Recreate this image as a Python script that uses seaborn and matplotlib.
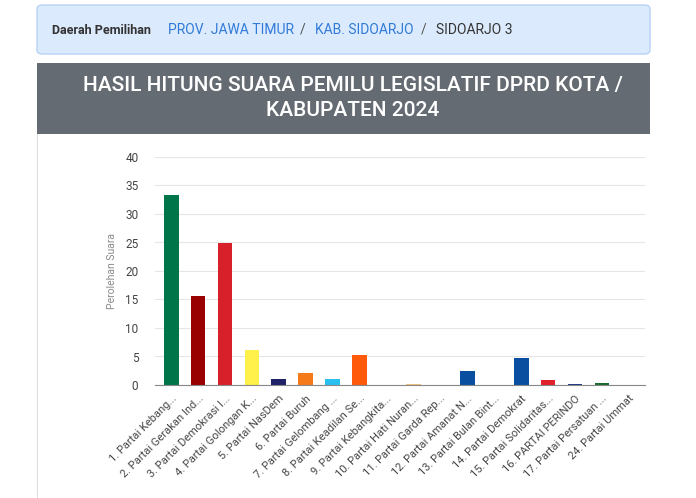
import matplotlib
matplotlib.use("Agg")
import matplotlib.pyplot as plt
import seaborn as sns
from matplotlib.patches import Rectangle, FancyBboxPatch

plt.rcParams["font.family"] = "Roboto"

parties = [
    "1. Partai Kebang...", "2. Partai Gerakan Ind...", "3. Partai Demokrasi I...",
    "4. Partai Golongan K...", "5. Partai NasDem", "6. Partai Buruh",
    "7. Partai Gelombang ...", "8. Partai Keadilan Se...", "9. Partai Kebangkita...",
    "10. Partai Hati Nuran...", "11. Partai Garda Rep...", "12. Partai Amanat N...",
    "13. Partai Bulan Bint...", "14. Partai Demokrat", "15. Partai Solidaritas...",
    "16. PARTAI PERINDO", "17. Partai Persatuan ...", "24. Partai Ummat",
]
votes = [33.4, 15.6, 24.9, 6.1, 1.1, 2.1, 1.0, 5.2, 0.05, 0.2, 0.05, 2.5, 0.05, 4.7, 0.8, 0.2, 0.3, 0.05]
colors = ["#00754a", "#990000", "#d7202a", "#fff04a", "#1f2266", "#f57a1a",
          "#29c0f0", "#ff5a0a", "#7a5a2a", "#f0c080", "#8a2a2a", "#0a4ea0",
          "#2a7a4a", "#0a4ea0", "#e0202a", "#1f3a8a", "#1a6a2a", "#2a6a5a"]
yticks = [0, 5, 10, 15, 20, 25, 30, 35, 40]

W, H = 696, 498
fig = plt.figure(figsize=(W / 100, H / 100), dpi=100)
fig.patch.set_facecolor("white")

def px(x, y, w, h):
    return (x / W, 1 - (y + h) / H, w / W, h / H)

# breadcrumb box
x0, y0, w0, h0 = px(37, 5, 613, 49)
fig.patches.append(FancyBboxPatch((x0, y0), w0, h0, boxstyle="round,pad=0,rounding_size=0.008",
                                  transform=fig.transFigure, fc="#dceafd", ec="#b8d2f5", lw=1))
ty = 1 - 30 / H
fig.text(52 / W, ty, "Daerah Pemilihan", fontsize=9, fontweight="bold", color="#333333", va="center")
fig.text(168 / W, ty, "PROV. JAWA TIMUR", fontsize=10, color="#2f7ad8", va="center")
fig.text(300 / W, ty, "/", fontsize=10, color="#555555", va="center")
fig.text(315 / W, ty, "KAB. SIDOARJO", fontsize=10, color="#2f7ad8", va="center")
fig.text(421 / W, ty, "/", fontsize=10, color="#555555", va="center")
fig.text(436 / W, ty, "SIDOARJO 3", fontsize=10, color="#333333", va="center")

# title banner
fig.patches.append(Rectangle(px(37, 63, 613, 71)[:2], 613 / W, 71 / H,
                             transform=fig.transFigure, fc="#646b73", ec="none"))
fig.text(353 / W, 1 - 98 / H, "HASIL HITUNG SUARA PEMILU LEGISLATIF DPRD KOTA /\nKABUPATEN 2024",
         fontsize=15, fontweight="medium", color="white", ha="center", va="center", linespacing=1.35)
fig.patches.append(Rectangle(px(37, 134, 1, 364)[:2], 1 / W, 364 / H,
                             transform=fig.transFigure, fc="#dddddd", ec="none"))

ax = fig.add_axes(px(155, 157, 490, 228))
sns.barplot(x=parties, y=votes, hue=parties, palette=colors, legend=False,
            width=0.55, ax=ax, saturation=1)
ax.set_ylim(0, 40)
ax.set_yticks(yticks)
ax.set_xlim(-0.6, len(parties) - 0.4)
ax.grid(axis="y", color="#e6e6e6", lw=0.8)
ax.set_axisbelow(True)
for s in ["top", "right", "left"]:
    ax.spines[s].set_visible(False)
ax.spines["bottom"].set_color("#888888")
ax.tick_params(length=0, labelsize=8.5, colors="#444444")
ax.tick_params(axis="y", pad=12)
ax.tick_params(axis="x", pad=6)
ax.set_xticks(range(len(parties)))
ax.set_xticklabels(parties, rotation=45, ha="right", rotation_mode="anchor", fontsize=8)
ax.set_ylabel("Perolehan Suara", fontsize=7.5, color="#888888", labelpad=6)
ax.set_xlabel("")

fig.savefig("out.png", dpi=100)
